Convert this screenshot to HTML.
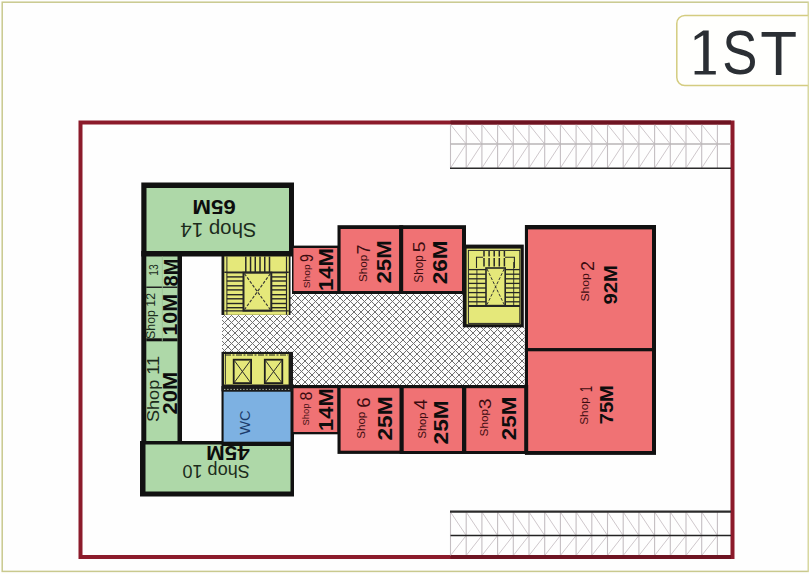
<!DOCTYPE html>
<html><head><meta charset="utf-8"><style>
html,body{margin:0;padding:0;background:#fff;width:810px;height:574px;overflow:hidden}
svg{display:block}
</style></head><body>
<svg width="810" height="574" viewBox="0 0 810 574" font-family="Liberation Sans, sans-serif">
<rect x="0" y="0" width="810" height="574" fill="#fefefe"/>
<rect x="2.2" y="2.2" width="806.3" height="569.2" fill="none" stroke="#c9c98e" stroke-width="1.5"/>
<rect x="676.8" y="15.5" width="160" height="70" rx="8" fill="#fffffd" stroke="#d4cc80" stroke-width="1.5"/>
<rect x="808.8" y="0" width="2" height="574" fill="#fff"/>
<line x1="808.3" y1="2" x2="808.3" y2="572" stroke="#d8d8a0" stroke-width="1.2"/>
<path d="M703.2,30.6 L708.7,30.6 L708.7,71 L715.8,71 L715.8,74.5 L694.6,74.5 L694.6,71 L703.2,71 L703.2,35.2 L694.6,40.2 L694.6,36.4 Z" fill="#2b2f34"/>
<text transform="translate(722.3,74.2) scale(0.83,1)" font-size="63.5" fill="#2b2f34" font-family="Liberation Sans">S</text>
<text transform="translate(760.2,74.6) scale(0.95,1)" font-size="63.5" fill="#2b2f34" font-family="Liberation Sans">T</text>
<rect x="80.5" y="122.5" width="652" height="434.5" fill="none" stroke="#8c1b2b" stroke-width="4"/>
<line x1="450.50" y1="124.50" x2="450.50" y2="168.00" stroke="#c4bec2" stroke-width="1.1" />
<line x1="466.20" y1="124.50" x2="466.20" y2="168.00" stroke="#c4bec2" stroke-width="1.1" />
<line x1="481.90" y1="124.50" x2="481.90" y2="168.00" stroke="#c4bec2" stroke-width="1.1" />
<line x1="497.60" y1="124.50" x2="497.60" y2="168.00" stroke="#c4bec2" stroke-width="1.1" />
<line x1="513.30" y1="124.50" x2="513.30" y2="168.00" stroke="#c4bec2" stroke-width="1.1" />
<line x1="529.00" y1="124.50" x2="529.00" y2="168.00" stroke="#c4bec2" stroke-width="1.1" />
<line x1="544.70" y1="124.50" x2="544.70" y2="168.00" stroke="#c4bec2" stroke-width="1.1" />
<line x1="560.40" y1="124.50" x2="560.40" y2="168.00" stroke="#c4bec2" stroke-width="1.1" />
<line x1="576.10" y1="124.50" x2="576.10" y2="168.00" stroke="#c4bec2" stroke-width="1.1" />
<line x1="591.80" y1="124.50" x2="591.80" y2="168.00" stroke="#c4bec2" stroke-width="1.1" />
<line x1="607.50" y1="124.50" x2="607.50" y2="168.00" stroke="#c4bec2" stroke-width="1.1" />
<line x1="623.20" y1="124.50" x2="623.20" y2="168.00" stroke="#c4bec2" stroke-width="1.1" />
<line x1="638.90" y1="124.50" x2="638.90" y2="168.00" stroke="#c4bec2" stroke-width="1.1" />
<line x1="654.60" y1="124.50" x2="654.60" y2="168.00" stroke="#c4bec2" stroke-width="1.1" />
<line x1="670.30" y1="124.50" x2="670.30" y2="168.00" stroke="#c4bec2" stroke-width="1.1" />
<line x1="686.00" y1="124.50" x2="686.00" y2="168.00" stroke="#c4bec2" stroke-width="1.1" />
<line x1="701.70" y1="124.50" x2="701.70" y2="168.00" stroke="#c4bec2" stroke-width="1.1" />
<line x1="717.40" y1="124.50" x2="717.40" y2="168.00" stroke="#c4bec2" stroke-width="1.1" />
<line x1="450.50" y1="124.50" x2="466.20" y2="144.00" stroke="#cfc8cc" stroke-width="1" />
<line x1="450.50" y1="168.00" x2="466.20" y2="144.00" stroke="#cfc8cc" stroke-width="1" />
<line x1="466.20" y1="124.50" x2="481.90" y2="144.00" stroke="#cfc8cc" stroke-width="1" />
<line x1="466.20" y1="168.00" x2="481.90" y2="144.00" stroke="#cfc8cc" stroke-width="1" />
<line x1="481.90" y1="124.50" x2="497.60" y2="144.00" stroke="#cfc8cc" stroke-width="1" />
<line x1="481.90" y1="168.00" x2="497.60" y2="144.00" stroke="#cfc8cc" stroke-width="1" />
<line x1="497.60" y1="124.50" x2="513.30" y2="144.00" stroke="#cfc8cc" stroke-width="1" />
<line x1="497.60" y1="168.00" x2="513.30" y2="144.00" stroke="#cfc8cc" stroke-width="1" />
<line x1="513.30" y1="124.50" x2="529.00" y2="144.00" stroke="#cfc8cc" stroke-width="1" />
<line x1="513.30" y1="168.00" x2="529.00" y2="144.00" stroke="#cfc8cc" stroke-width="1" />
<line x1="529.00" y1="124.50" x2="544.70" y2="144.00" stroke="#cfc8cc" stroke-width="1" />
<line x1="529.00" y1="168.00" x2="544.70" y2="144.00" stroke="#cfc8cc" stroke-width="1" />
<line x1="544.70" y1="124.50" x2="560.40" y2="144.00" stroke="#cfc8cc" stroke-width="1" />
<line x1="544.70" y1="168.00" x2="560.40" y2="144.00" stroke="#cfc8cc" stroke-width="1" />
<line x1="560.40" y1="124.50" x2="576.10" y2="144.00" stroke="#cfc8cc" stroke-width="1" />
<line x1="560.40" y1="168.00" x2="576.10" y2="144.00" stroke="#cfc8cc" stroke-width="1" />
<line x1="576.10" y1="124.50" x2="591.80" y2="144.00" stroke="#cfc8cc" stroke-width="1" />
<line x1="576.10" y1="168.00" x2="591.80" y2="144.00" stroke="#cfc8cc" stroke-width="1" />
<line x1="591.80" y1="124.50" x2="607.50" y2="144.00" stroke="#cfc8cc" stroke-width="1" />
<line x1="591.80" y1="168.00" x2="607.50" y2="144.00" stroke="#cfc8cc" stroke-width="1" />
<line x1="607.50" y1="124.50" x2="623.20" y2="144.00" stroke="#cfc8cc" stroke-width="1" />
<line x1="607.50" y1="168.00" x2="623.20" y2="144.00" stroke="#cfc8cc" stroke-width="1" />
<line x1="623.20" y1="124.50" x2="638.90" y2="144.00" stroke="#cfc8cc" stroke-width="1" />
<line x1="623.20" y1="168.00" x2="638.90" y2="144.00" stroke="#cfc8cc" stroke-width="1" />
<line x1="638.90" y1="124.50" x2="654.60" y2="144.00" stroke="#cfc8cc" stroke-width="1" />
<line x1="638.90" y1="168.00" x2="654.60" y2="144.00" stroke="#cfc8cc" stroke-width="1" />
<line x1="654.60" y1="124.50" x2="670.30" y2="144.00" stroke="#cfc8cc" stroke-width="1" />
<line x1="654.60" y1="168.00" x2="670.30" y2="144.00" stroke="#cfc8cc" stroke-width="1" />
<line x1="670.30" y1="124.50" x2="686.00" y2="144.00" stroke="#cfc8cc" stroke-width="1" />
<line x1="670.30" y1="168.00" x2="686.00" y2="144.00" stroke="#cfc8cc" stroke-width="1" />
<line x1="686.00" y1="124.50" x2="701.70" y2="144.00" stroke="#cfc8cc" stroke-width="1" />
<line x1="686.00" y1="168.00" x2="701.70" y2="144.00" stroke="#cfc8cc" stroke-width="1" />
<line x1="701.70" y1="124.50" x2="717.40" y2="144.00" stroke="#cfc8cc" stroke-width="1" />
<line x1="701.70" y1="168.00" x2="717.40" y2="144.00" stroke="#cfc8cc" stroke-width="1" />
<line x1="450.50" y1="144.00" x2="731.00" y2="144.00" stroke="#b8b4b6" stroke-width="1.4" />
<line x1="450.00" y1="168.20" x2="731.00" y2="168.20" stroke="#2a2a2a" stroke-width="1.6" />
<line x1="450.50" y1="122.50" x2="731.00" y2="122.50" stroke="#6e1422" stroke-width="4" />
<line x1="450.50" y1="512.00" x2="450.50" y2="555.50" stroke="#c4bec2" stroke-width="1.1" />
<line x1="466.20" y1="512.00" x2="466.20" y2="555.50" stroke="#c4bec2" stroke-width="1.1" />
<line x1="481.90" y1="512.00" x2="481.90" y2="555.50" stroke="#c4bec2" stroke-width="1.1" />
<line x1="497.60" y1="512.00" x2="497.60" y2="555.50" stroke="#c4bec2" stroke-width="1.1" />
<line x1="513.30" y1="512.00" x2="513.30" y2="555.50" stroke="#c4bec2" stroke-width="1.1" />
<line x1="529.00" y1="512.00" x2="529.00" y2="555.50" stroke="#c4bec2" stroke-width="1.1" />
<line x1="544.70" y1="512.00" x2="544.70" y2="555.50" stroke="#c4bec2" stroke-width="1.1" />
<line x1="560.40" y1="512.00" x2="560.40" y2="555.50" stroke="#c4bec2" stroke-width="1.1" />
<line x1="576.10" y1="512.00" x2="576.10" y2="555.50" stroke="#c4bec2" stroke-width="1.1" />
<line x1="591.80" y1="512.00" x2="591.80" y2="555.50" stroke="#c4bec2" stroke-width="1.1" />
<line x1="607.50" y1="512.00" x2="607.50" y2="555.50" stroke="#c4bec2" stroke-width="1.1" />
<line x1="623.20" y1="512.00" x2="623.20" y2="555.50" stroke="#c4bec2" stroke-width="1.1" />
<line x1="638.90" y1="512.00" x2="638.90" y2="555.50" stroke="#c4bec2" stroke-width="1.1" />
<line x1="654.60" y1="512.00" x2="654.60" y2="555.50" stroke="#c4bec2" stroke-width="1.1" />
<line x1="670.30" y1="512.00" x2="670.30" y2="555.50" stroke="#c4bec2" stroke-width="1.1" />
<line x1="686.00" y1="512.00" x2="686.00" y2="555.50" stroke="#c4bec2" stroke-width="1.1" />
<line x1="701.70" y1="512.00" x2="701.70" y2="555.50" stroke="#c4bec2" stroke-width="1.1" />
<line x1="717.40" y1="512.00" x2="717.40" y2="555.50" stroke="#c4bec2" stroke-width="1.1" />
<line x1="450.50" y1="512.00" x2="466.20" y2="535.50" stroke="#cfc8cc" stroke-width="1" />
<line x1="450.50" y1="555.50" x2="466.20" y2="535.50" stroke="#cfc8cc" stroke-width="1" />
<line x1="466.20" y1="512.00" x2="481.90" y2="535.50" stroke="#cfc8cc" stroke-width="1" />
<line x1="466.20" y1="555.50" x2="481.90" y2="535.50" stroke="#cfc8cc" stroke-width="1" />
<line x1="481.90" y1="512.00" x2="497.60" y2="535.50" stroke="#cfc8cc" stroke-width="1" />
<line x1="481.90" y1="555.50" x2="497.60" y2="535.50" stroke="#cfc8cc" stroke-width="1" />
<line x1="497.60" y1="512.00" x2="513.30" y2="535.50" stroke="#cfc8cc" stroke-width="1" />
<line x1="497.60" y1="555.50" x2="513.30" y2="535.50" stroke="#cfc8cc" stroke-width="1" />
<line x1="513.30" y1="512.00" x2="529.00" y2="535.50" stroke="#cfc8cc" stroke-width="1" />
<line x1="513.30" y1="555.50" x2="529.00" y2="535.50" stroke="#cfc8cc" stroke-width="1" />
<line x1="529.00" y1="512.00" x2="544.70" y2="535.50" stroke="#cfc8cc" stroke-width="1" />
<line x1="529.00" y1="555.50" x2="544.70" y2="535.50" stroke="#cfc8cc" stroke-width="1" />
<line x1="544.70" y1="512.00" x2="560.40" y2="535.50" stroke="#cfc8cc" stroke-width="1" />
<line x1="544.70" y1="555.50" x2="560.40" y2="535.50" stroke="#cfc8cc" stroke-width="1" />
<line x1="560.40" y1="512.00" x2="576.10" y2="535.50" stroke="#cfc8cc" stroke-width="1" />
<line x1="560.40" y1="555.50" x2="576.10" y2="535.50" stroke="#cfc8cc" stroke-width="1" />
<line x1="576.10" y1="512.00" x2="591.80" y2="535.50" stroke="#cfc8cc" stroke-width="1" />
<line x1="576.10" y1="555.50" x2="591.80" y2="535.50" stroke="#cfc8cc" stroke-width="1" />
<line x1="591.80" y1="512.00" x2="607.50" y2="535.50" stroke="#cfc8cc" stroke-width="1" />
<line x1="591.80" y1="555.50" x2="607.50" y2="535.50" stroke="#cfc8cc" stroke-width="1" />
<line x1="607.50" y1="512.00" x2="623.20" y2="535.50" stroke="#cfc8cc" stroke-width="1" />
<line x1="607.50" y1="555.50" x2="623.20" y2="535.50" stroke="#cfc8cc" stroke-width="1" />
<line x1="623.20" y1="512.00" x2="638.90" y2="535.50" stroke="#cfc8cc" stroke-width="1" />
<line x1="623.20" y1="555.50" x2="638.90" y2="535.50" stroke="#cfc8cc" stroke-width="1" />
<line x1="638.90" y1="512.00" x2="654.60" y2="535.50" stroke="#cfc8cc" stroke-width="1" />
<line x1="638.90" y1="555.50" x2="654.60" y2="535.50" stroke="#cfc8cc" stroke-width="1" />
<line x1="654.60" y1="512.00" x2="670.30" y2="535.50" stroke="#cfc8cc" stroke-width="1" />
<line x1="654.60" y1="555.50" x2="670.30" y2="535.50" stroke="#cfc8cc" stroke-width="1" />
<line x1="670.30" y1="512.00" x2="686.00" y2="535.50" stroke="#cfc8cc" stroke-width="1" />
<line x1="670.30" y1="555.50" x2="686.00" y2="535.50" stroke="#cfc8cc" stroke-width="1" />
<line x1="686.00" y1="512.00" x2="701.70" y2="535.50" stroke="#cfc8cc" stroke-width="1" />
<line x1="686.00" y1="555.50" x2="701.70" y2="535.50" stroke="#cfc8cc" stroke-width="1" />
<line x1="701.70" y1="512.00" x2="717.40" y2="535.50" stroke="#cfc8cc" stroke-width="1" />
<line x1="701.70" y1="555.50" x2="717.40" y2="535.50" stroke="#cfc8cc" stroke-width="1" />
<line x1="450.50" y1="535.50" x2="731.00" y2="535.50" stroke="#222" stroke-width="1.4" />
<line x1="450.00" y1="511.60" x2="731.00" y2="511.60" stroke="#2a2a2a" stroke-width="2.2" />
<line x1="450.50" y1="557.00" x2="731.00" y2="557.00" stroke="#6e1422" stroke-width="4" />
<defs><pattern id="h" width="7" height="7" patternUnits="userSpaceOnUse" x="0" y="0"><g fill="#707070" shape-rendering="crispEdges"><rect x="0" y="0" width="1" height="1"/><rect x="1" y="1" width="1" height="1"/><rect x="6" y="1" width="1" height="1"/><rect x="2" y="2" width="1" height="1"/><rect x="5" y="2" width="1" height="1"/><rect x="3" y="3" width="1" height="1"/><rect x="4" y="3" width="1" height="1"/><rect x="3" y="4" width="1" height="1"/><rect x="4" y="4" width="1" height="1"/><rect x="2" y="5" width="1" height="1"/><rect x="5" y="5" width="1" height="1"/><rect x="1" y="6" width="1" height="1"/><rect x="6" y="6" width="1" height="1"/></g></pattern></defs>
<path d="M222,315 L290,315 L290,294 L463,294 L463,327 L524.5,327 L524.5,385.5 L292,385.5 L292,352 L222,352 Z" fill="#fcfcfc"/>
<path d="M222,315 L290,315 L290,294 L463,294 L463,327 L524.5,327 L524.5,385.5 L292,385.5 L292,352 L222,352 Z" fill="url(#h)"/>
<rect x="141.30" y="182.50" width="152.70" height="74.00" fill="#111" />
<rect x="146.50" y="188.00" width="142.50" height="63.00" fill="#aed8a8" />
<rect x="141.30" y="251.00" width="40.70" height="195.00" fill="#111" />
<rect x="146.30" y="256.50" width="31.20" height="186.50" fill="#aed8a8" />
<rect x="146.30" y="286.50" width="31.20" height="1.50" fill="#222" />
<rect x="146.30" y="338.30" width="31.20" height="3.00" fill="#111" />
<line x1="162.30" y1="256.50" x2="162.30" y2="341.00" stroke="#9cc096" stroke-width="0.8" />
<rect x="140.00" y="441.00" width="154.00" height="55.50" fill="#111" />
<rect x="145.50" y="444.50" width="145.00" height="47.00" fill="#aed8a8" />
<rect x="221.50" y="386.00" width="72.50" height="60.00" fill="#111" />
<rect x="223.60" y="391.50" width="66.90" height="50.20" fill="#7db1e2" />
<rect x="292.00" y="245.60" width="48.60" height="48.40" fill="#111" />
<rect x="293.50" y="248.00" width="44.00" height="43.00" fill="#f07274" />
<rect x="337.50" y="225.20" width="65.70" height="68.80" fill="#111" />
<rect x="340.60" y="229.00" width="58.70" height="62.00" fill="#f07274" />
<rect x="399.30" y="225.20" width="66.70" height="68.80" fill="#111" />
<rect x="403.20" y="229.00" width="58.80" height="62.00" fill="#f07274" />
<rect x="524.90" y="225.00" width="131.10" height="126.30" fill="#111" />
<rect x="528.00" y="229.40" width="124.00" height="118.80" fill="#f07274" />
<rect x="524.90" y="348.20" width="131.10" height="106.70" fill="#111" />
<rect x="528.00" y="351.30" width="124.00" height="99.70" fill="#f07274" />
<rect x="292.00" y="385.00" width="48.60" height="49.30" fill="#111" />
<rect x="293.50" y="388.20" width="44.00" height="43.80" fill="#f07274" />
<rect x="337.50" y="385.00" width="66.20" height="68.90" fill="#111" />
<rect x="340.60" y="388.20" width="59.10" height="62.50" fill="#f07274" />
<rect x="399.70" y="385.00" width="66.60" height="69.00" fill="#111" />
<rect x="403.70" y="388.20" width="58.30" height="62.80" fill="#f07274" />
<rect x="462.00" y="385.00" width="66.20" height="69.00" fill="#111" />
<rect x="466.30" y="388.20" width="57.90" height="62.80" fill="#f07274" />
<rect x="221.50" y="256.00" width="69.00" height="59.00" fill="#1a1a1a" />
<rect x="224.30" y="256.50" width="64.50" height="58.30" fill="#e5e87a" />
<line x1="226.90" y1="256.50" x2="226.90" y2="314.80" stroke="#262626" stroke-width="1.0" />
<line x1="286.50" y1="256.50" x2="286.50" y2="314.80" stroke="#262626" stroke-width="1.2" />
<line x1="224.30" y1="272.30" x2="288.80" y2="272.30" stroke="#262626" stroke-width="1.4" />
<line x1="245.80" y1="256.50" x2="245.80" y2="272.00" stroke="#262626" stroke-width="1.5" />
<line x1="250.54" y1="256.50" x2="250.54" y2="272.00" stroke="#262626" stroke-width="1.5" />
<line x1="255.28" y1="256.50" x2="255.28" y2="272.00" stroke="#262626" stroke-width="1.5" />
<line x1="260.02" y1="256.50" x2="260.02" y2="272.00" stroke="#262626" stroke-width="1.5" />
<line x1="264.76" y1="256.50" x2="264.76" y2="272.00" stroke="#262626" stroke-width="1.5" />
<line x1="269.50" y1="256.50" x2="269.50" y2="272.00" stroke="#262626" stroke-width="1.5" />
<line x1="226.90" y1="272.70" x2="243.50" y2="272.70" stroke="#262626" stroke-width="1.4" />
<line x1="271.30" y1="272.70" x2="286.50" y2="272.70" stroke="#262626" stroke-width="1.4" />
<line x1="226.90" y1="276.90" x2="243.50" y2="276.90" stroke="#262626" stroke-width="1.4" />
<line x1="271.30" y1="276.90" x2="286.50" y2="276.90" stroke="#262626" stroke-width="1.4" />
<line x1="226.90" y1="281.00" x2="243.50" y2="281.00" stroke="#262626" stroke-width="1.4" />
<line x1="271.30" y1="281.00" x2="286.50" y2="281.00" stroke="#262626" stroke-width="1.4" />
<line x1="226.90" y1="285.80" x2="243.50" y2="285.80" stroke="#262626" stroke-width="1.4" />
<line x1="271.30" y1="285.80" x2="286.50" y2="285.80" stroke="#262626" stroke-width="1.4" />
<line x1="226.90" y1="289.90" x2="243.50" y2="289.90" stroke="#262626" stroke-width="1.4" />
<line x1="271.30" y1="289.90" x2="286.50" y2="289.90" stroke="#262626" stroke-width="1.4" />
<line x1="226.90" y1="294.70" x2="243.50" y2="294.70" stroke="#262626" stroke-width="1.4" />
<line x1="271.30" y1="294.70" x2="286.50" y2="294.70" stroke="#262626" stroke-width="1.4" />
<line x1="226.90" y1="298.80" x2="243.50" y2="298.80" stroke="#262626" stroke-width="1.4" />
<line x1="271.30" y1="298.80" x2="286.50" y2="298.80" stroke="#262626" stroke-width="1.4" />
<line x1="226.90" y1="303.50" x2="243.50" y2="303.50" stroke="#262626" stroke-width="1.4" />
<line x1="271.30" y1="303.50" x2="286.50" y2="303.50" stroke="#262626" stroke-width="1.4" />
<line x1="226.90" y1="307.70" x2="243.50" y2="307.70" stroke="#262626" stroke-width="1.4" />
<line x1="271.30" y1="307.70" x2="286.50" y2="307.70" stroke="#262626" stroke-width="1.4" />
<rect x="243.5" y="272.7" width="27.8" height="37.9" fill="#e5e87a" stroke="#262626" stroke-width="2"/>
<path d="M244.5,273.7 L270.3,309.6 M270.3,273.7 L244.5,309.6" stroke="#333" stroke-width="1.1" stroke-dasharray="3,1.6"/>
<line x1="224.30" y1="310.80" x2="288.80" y2="310.80" stroke="#262626" stroke-width="1.2" />
<rect x="462.80" y="244.60" width="61.00" height="82.70" fill="#141414" />
<rect x="466.60" y="248.60" width="54.00" height="75.60" fill="#e5e87a" />
<rect x="468.4" y="250.4" width="51.4" height="73" fill="none" stroke="#262626" stroke-width="1"/>
<line x1="484.00" y1="251.00" x2="484.00" y2="256.60" stroke="#262626" stroke-width="1.5" />
<line x1="484.00" y1="258.00" x2="484.00" y2="266.50" stroke="#262626" stroke-width="1.5" />
<line x1="489.10" y1="251.00" x2="489.10" y2="256.60" stroke="#262626" stroke-width="1.5" />
<line x1="489.10" y1="258.00" x2="489.10" y2="266.50" stroke="#262626" stroke-width="1.5" />
<line x1="494.20" y1="251.00" x2="494.20" y2="256.60" stroke="#262626" stroke-width="1.5" />
<line x1="494.20" y1="258.00" x2="494.20" y2="266.50" stroke="#262626" stroke-width="1.5" />
<line x1="499.30" y1="251.00" x2="499.30" y2="256.60" stroke="#262626" stroke-width="1.5" />
<line x1="499.30" y1="258.00" x2="499.30" y2="266.50" stroke="#262626" stroke-width="1.5" />
<line x1="504.40" y1="251.00" x2="504.40" y2="256.60" stroke="#262626" stroke-width="1.5" />
<line x1="504.40" y1="258.00" x2="504.40" y2="266.50" stroke="#262626" stroke-width="1.5" />
<path d="M476.5,268 L476.5,257.3 L483,257.3 M505,257.3 L514.4,257.3 L514.4,268" fill="none" stroke="#262626" stroke-width="1.1"/>
<line x1="468.40" y1="269.60" x2="486.00" y2="269.60" stroke="#262626" stroke-width="1.3" />
<line x1="505.00" y1="269.60" x2="519.80" y2="269.60" stroke="#262626" stroke-width="1.3" />
<line x1="468.40" y1="274.20" x2="486.00" y2="274.20" stroke="#262626" stroke-width="1.3" />
<line x1="505.00" y1="274.20" x2="519.80" y2="274.20" stroke="#262626" stroke-width="1.3" />
<line x1="468.40" y1="278.80" x2="486.00" y2="278.80" stroke="#262626" stroke-width="1.3" />
<line x1="505.00" y1="278.80" x2="519.80" y2="278.80" stroke="#262626" stroke-width="1.3" />
<line x1="468.40" y1="283.40" x2="486.00" y2="283.40" stroke="#262626" stroke-width="1.3" />
<line x1="505.00" y1="283.40" x2="519.80" y2="283.40" stroke="#262626" stroke-width="1.3" />
<line x1="468.40" y1="288.00" x2="486.00" y2="288.00" stroke="#262626" stroke-width="1.3" />
<line x1="505.00" y1="288.00" x2="519.80" y2="288.00" stroke="#262626" stroke-width="1.3" />
<line x1="468.40" y1="292.60" x2="486.00" y2="292.60" stroke="#262626" stroke-width="1.3" />
<line x1="505.00" y1="292.60" x2="519.80" y2="292.60" stroke="#262626" stroke-width="1.3" />
<line x1="468.40" y1="297.20" x2="486.00" y2="297.20" stroke="#262626" stroke-width="1.3" />
<line x1="505.00" y1="297.20" x2="519.80" y2="297.20" stroke="#262626" stroke-width="1.3" />
<line x1="468.40" y1="301.80" x2="486.00" y2="301.80" stroke="#262626" stroke-width="1.3" />
<line x1="505.00" y1="301.80" x2="519.80" y2="301.80" stroke="#262626" stroke-width="1.3" />
<line x1="468.40" y1="305.60" x2="486.00" y2="305.60" stroke="#262626" stroke-width="1.3" />
<line x1="505.00" y1="305.60" x2="519.80" y2="305.60" stroke="#262626" stroke-width="1.3" />
<line x1="476.90" y1="269.00" x2="476.90" y2="306.00" stroke="#262626" stroke-width="0.9" />
<line x1="513.70" y1="262.00" x2="513.70" y2="306.00" stroke="#262626" stroke-width="0.9" />
<rect x="486" y="268" width="19.2" height="37.6" fill="#e5e87a" stroke="#262626" stroke-width="1.6"/>
<path d="M487,269 L504.2,304.6 M504.2,269 L487,304.6" stroke="#333" stroke-width="1" stroke-dasharray="3,1.6"/>
<line x1="468.40" y1="306.40" x2="519.80" y2="306.40" stroke="#262626" stroke-width="1.2" />
<rect x="221.50" y="351.90" width="71.50" height="39.50" fill="#1a1a1a" />
<rect x="224.00" y="354.00" width="64.60" height="30.50" fill="#e5e87a" />
<line x1="225" y1="355" x2="288" y2="355" stroke="#1a1a1a" stroke-width="1.2" stroke-dasharray="6,1.5,2,1.5"/>
<line x1="225.40" y1="354.00" x2="225.40" y2="384.50" stroke="#262626" stroke-width="0.9" />
<line x1="224" y1="389.4" x2="291" y2="389.4" stroke="#b9bca8" stroke-width="1" stroke-dasharray="1.4,1.8"/>
<rect x="233.70000000000002" y="359.7" width="17.399999999999988" height="23.4" fill="#e5e87a" stroke="#1e1e1e" stroke-width="1.8"/>
<path d="M234.3,360.5 L250.5,382.5 M250.5,360.5 L234.3,382.5" stroke="#2a2a2a" stroke-width="1"/>
<rect x="264.79999999999995" y="359.7" width="17.50000000000001" height="23.4" fill="#e5e87a" stroke="#1e1e1e" stroke-width="1.8"/>
<path d="M265.4,360.5 L281.7,382.5 M281.7,360.5 L265.4,382.5" stroke="#2a2a2a" stroke-width="1"/>
<text transform="translate(309.60,288.30) rotate(-90)" font-size="9.73" font-weight="normal" fill="#3c0c10" textLength="24.00" lengthAdjust="spacingAndGlyphs" font-family="Liberation Sans" >Shop</text>
<text transform="translate(313.20,261.90) rotate(-90)" font-size="18.33" font-weight="normal" fill="#3c0c10" textLength="7.80" lengthAdjust="spacingAndGlyphs" font-family="Liberation Sans" >9</text>
<text transform="translate(333.30,291.10) rotate(-90)" font-size="20.96" font-weight="bold" fill="#0d0d0d" textLength="42.90" lengthAdjust="spacingAndGlyphs" font-family="Liberation Sans" >14M</text>
<text transform="translate(366.70,282.10) rotate(-90)" font-size="11.62" font-weight="normal" fill="#3c0c10" textLength="27.40" lengthAdjust="spacingAndGlyphs" font-family="Liberation Sans" >Shop</text>
<text transform="translate(369.70,254.40) rotate(-90)" font-size="18.19" font-weight="normal" fill="#3c0c10" textLength="10.00" lengthAdjust="spacingAndGlyphs" font-family="Liberation Sans" >7</text>
<text transform="translate(391.00,283.60) rotate(-90)" font-size="20.14" font-weight="bold" fill="#0d0d0d" textLength="43.40" lengthAdjust="spacingAndGlyphs" font-family="Liberation Sans" >25M</text>
<text transform="translate(422.90,282.70) rotate(-90)" font-size="12.16" font-weight="normal" fill="#3c0c10" textLength="27.40" lengthAdjust="spacingAndGlyphs" font-family="Liberation Sans" >Shop</text>
<text transform="translate(425.20,252.20) rotate(-90)" font-size="16.94" font-weight="normal" fill="#3c0c10" textLength="10.80" lengthAdjust="spacingAndGlyphs" font-family="Liberation Sans" >5</text>
<text transform="translate(446.90,284.20) rotate(-90)" font-size="20.68" font-weight="bold" fill="#0d0d0d" textLength="43.80" lengthAdjust="spacingAndGlyphs" font-family="Liberation Sans" >26M</text>
<text transform="translate(589.40,301.60) rotate(-90)" font-size="10.41" font-weight="normal" fill="#3c0c10" textLength="28.40" lengthAdjust="spacingAndGlyphs" font-family="Liberation Sans" >Shop</text>
<text transform="translate(594.20,271.00) rotate(-90)" font-size="18.06" font-weight="normal" fill="#3c0c10" textLength="10.00" lengthAdjust="spacingAndGlyphs" font-family="Liberation Sans" >2</text>
<text transform="translate(617.10,304.50) rotate(-90)" font-size="18.36" font-weight="bold" fill="#0d0d0d" textLength="39.40" lengthAdjust="spacingAndGlyphs" font-family="Liberation Sans" >92M</text>
<text transform="translate(587.50,424.70) rotate(-90)" font-size="10.14" font-weight="normal" fill="#3c0c10" textLength="27.40" lengthAdjust="spacingAndGlyphs" font-family="Liberation Sans" >Shop</text>
<text transform="translate(592.20,391.90) rotate(-90)" font-size="16.25" font-weight="normal" fill="#3c0c10" textLength="6.10" lengthAdjust="spacingAndGlyphs" font-family="Liberation Sans" >1</text>
<text transform="translate(613.00,424.30) rotate(-90)" font-size="17.53" font-weight="bold" fill="#0d0d0d" textLength="39.20" lengthAdjust="spacingAndGlyphs" font-family="Liberation Sans" >75M</text>
<text transform="translate(309.00,425.50) rotate(-90)" font-size="9.46" font-weight="normal" fill="#3c0c10" textLength="22.00" lengthAdjust="spacingAndGlyphs" font-family="Liberation Sans" >Shop</text>
<text transform="translate(312.00,400.50) rotate(-90)" font-size="16.81" font-weight="normal" fill="#3c0c10" textLength="8.90" lengthAdjust="spacingAndGlyphs" font-family="Liberation Sans" >8</text>
<text transform="translate(332.90,430.90) rotate(-90)" font-size="20.14" font-weight="bold" fill="#0d0d0d" textLength="42.50" lengthAdjust="spacingAndGlyphs" font-family="Liberation Sans" >14M</text>
<text transform="translate(365.10,438.70) rotate(-90)" font-size="11.49" font-weight="normal" fill="#3c0c10" textLength="27.00" lengthAdjust="spacingAndGlyphs" font-family="Liberation Sans" >Shop</text>
<text transform="translate(369.80,407.70) rotate(-90)" font-size="17.78" font-weight="normal" fill="#3c0c10" textLength="10.30" lengthAdjust="spacingAndGlyphs" font-family="Liberation Sans" >6</text>
<text transform="translate(391.90,440.60) rotate(-90)" font-size="20.68" font-weight="bold" fill="#0d0d0d" textLength="44.40" lengthAdjust="spacingAndGlyphs" font-family="Liberation Sans" >25M</text>
<text transform="translate(425.60,438.50) rotate(-90)" font-size="11.22" font-weight="normal" fill="#3c0c10" textLength="26.00" lengthAdjust="spacingAndGlyphs" font-family="Liberation Sans" >Shop</text>
<text transform="translate(427.10,409.80) rotate(-90)" font-size="17.64" font-weight="normal" fill="#3c0c10" textLength="10.70" lengthAdjust="spacingAndGlyphs" font-family="Liberation Sans" >4</text>
<text transform="translate(447.60,444.40) rotate(-90)" font-size="19.45" font-weight="bold" fill="#0d0d0d" textLength="44.00" lengthAdjust="spacingAndGlyphs" font-family="Liberation Sans" >25M</text>
<text transform="translate(488.00,436.40) rotate(-90)" font-size="10.81" font-weight="normal" fill="#3c0c10" textLength="27.50" lengthAdjust="spacingAndGlyphs" font-family="Liberation Sans" >Shop</text>
<text transform="translate(491.30,409.20) rotate(-90)" font-size="17.08" font-weight="normal" fill="#3c0c10" textLength="10.80" lengthAdjust="spacingAndGlyphs" font-family="Liberation Sans" >3</text>
<text transform="translate(515.80,440.20) rotate(-90)" font-size="20.0" font-weight="bold" fill="#0d0d0d" textLength="43.50" lengthAdjust="spacingAndGlyphs" font-family="Liberation Sans" >25M</text>
<text transform="translate(157.50,275.80) rotate(-90)" font-size="13" font-weight="normal" fill="#1c2c1c" textLength="11.50" lengthAdjust="spacingAndGlyphs" font-family="Liberation Sans" >13</text>
<text transform="translate(178.20,286.40) rotate(-90)" font-size="20" font-weight="bold" fill="#0d0d0d" textLength="27.80" lengthAdjust="spacingAndGlyphs" font-family="Liberation Sans" >8M</text>
<text transform="translate(155.30,338.90) rotate(-90)" font-size="12.5" font-weight="normal" fill="#1c2c1c" textLength="45.90" lengthAdjust="spacingAndGlyphs" font-family="Liberation Sans" >Shop 12</text>
<text transform="translate(176.50,335.60) rotate(-90)" font-size="20" font-weight="bold" fill="#0d0d0d" textLength="41.80" lengthAdjust="spacingAndGlyphs" font-family="Liberation Sans" >10M</text>
<text transform="translate(158.50,422.00) rotate(-90)" font-size="16.5" font-weight="normal" fill="#1c2c1c" textLength="66.00" lengthAdjust="spacingAndGlyphs" font-family="Liberation Sans" >Shop 11</text>
<text transform="translate(176.50,414.50) rotate(-90)" font-size="20" font-weight="bold" fill="#0d0d0d" textLength="42.70" lengthAdjust="spacingAndGlyphs" font-family="Liberation Sans" >20M</text>
<text transform="translate(235.80,199.80) rotate(180)" font-size="20" font-weight="bold" fill="#0d0d0d" textLength="43.40" lengthAdjust="spacingAndGlyphs" font-family="Liberation Sans">65M</text>
<text transform="translate(256.60,222.50) rotate(180)" font-size="20" font-weight="normal" fill="#1c2c1c" textLength="76.10" lengthAdjust="spacingAndGlyphs" font-family="Liberation Sans">Shop 14</text>
<text transform="translate(249.70,445.90) rotate(180)" font-size="20" font-weight="bold" fill="#0d0d0d" textLength="43.50" lengthAdjust="spacingAndGlyphs" font-family="Liberation Sans">45M</text>
<text transform="translate(249.70,464.60) rotate(180)" font-size="18" font-weight="normal" fill="#1c2c1c" textLength="67.20" lengthAdjust="spacingAndGlyphs" font-family="Liberation Sans">Shop 10</text>
<text transform="translate(249.70,434.80) rotate(-90)" font-size="14.5" font-weight="normal" fill="#1b3c6c" textLength="24.50" lengthAdjust="spacingAndGlyphs" font-family="Liberation Sans" >WC</text>
</svg>
</body></html>
